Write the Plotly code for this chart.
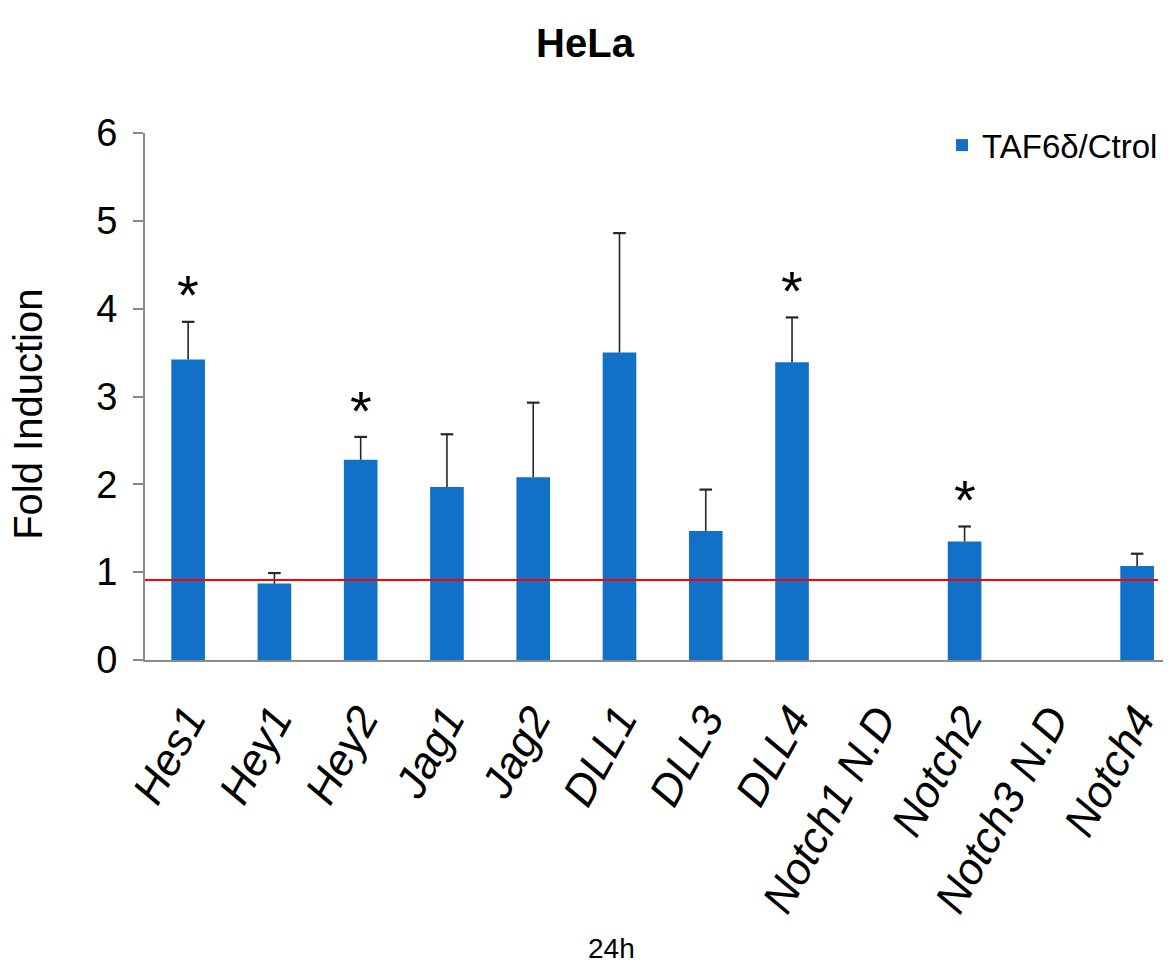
import plotly.graph_objects as go

# Fold induction of Notch pathway genes (TAF6delta vs control), HeLa cells, 24h
genes = ["Hes1", "Hey1", "Hey2", "Jag1", "Jag2", "DLL1", "DLL3", "DLL4",
         "Notch1 N.D", "Notch2", "Notch3 N.D", "Notch4"]
fold_induction = [3.42, 0.87, 2.28, 1.97, 2.08, 3.50, 1.47, 3.39,
                  None, 1.35, None, 1.07]
error_plus = [0.43, 0.12, 0.26, 0.60, 0.85, 1.36, 0.47, 0.51,
              None, 0.17, None, 0.14]
significant = [True, False, True, False, False, False, False, True,
               False, True, False, False]
reference_level = 0.91

BAR_BLUE = "#1170C7"
AXIS_GREY = "#8A8A8A"
ERR_COLOR = "#262626"
SANS = "Liberation Sans, Arial, sans-serif"

fig = go.Figure()

fig.add_trace(go.Bar(
    x=genes,
    y=fold_induction,
    name="TAF6δ/Ctrol",
    width=0.39,
    marker=dict(color=BAR_BLUE, line=dict(width=0)),
    error_y=dict(type="data", symmetric=False, array=error_plus,
                 arrayminus=[0 if v is not None else None for v in error_plus],
                 color=ERR_COLOR, thickness=1.6, width=0, visible=True),
))

# caps on the upper end of the error bars
cap_y = [v + e if v is not None else None for v, e in zip(fold_induction, error_plus)]
fig.add_trace(go.Scatter(
    x=genes, y=cap_y, mode="markers", showlegend=False, hoverinfo="skip",
    marker=dict(symbol="line-ew-open", size=9, color=ERR_COLOR,
                line=dict(color=ERR_COLOR, width=2.2)),
))

# significance asterisks above the error bars
star_offset = 0.42
for g, v, e, s in zip(genes, fold_induction, error_plus, significant):
    if s and v is not None:
        fig.add_annotation(x=g, y=v + e + star_offset, text="*", showarrow=False,
                           xref="x", yref="y", yanchor="middle", yshift=-10,
                           font=dict(family=SANS, size=56, color="black"))

# reference line
fig.add_shape(type="line", xref="paper", x0=0, x1=0.995, yref="y",
              y0=reference_level, y1=reference_level,
              line=dict(color="#FF0000", width=2))

fig.add_annotation(text="Fold Induction", xref="paper", yref="paper",
                   x=-0.115, y=0.467, textangle=-90, showarrow=False,
                   xanchor="center", yanchor="middle",
                   font=dict(family=SANS, size=40, color="black"))

fig.add_annotation(text="24h", xref="paper", yref="paper",
                   x=0.4587, y=-0.5465, showarrow=False,
                   xanchor="center", yanchor="middle",
                   font=dict(family=SANS, size=28, color="black"))

fig.update_layout(
    width=1170, height=964,
    margin=dict(l=145, r=7, t=133, b=304, pad=0),
    paper_bgcolor="white", plot_bgcolor="white",
    title=dict(text="<b>HeLa</b>", xref="container", x=0.5, xanchor="center",
               yref="container", y=0.955, yanchor="middle",
               font=dict(family=SANS, size=40, color="black")),
    showlegend=True,
    legend=dict(x=1.0, xanchor="right", y=0.977, yanchor="middle",
                bgcolor="rgba(0,0,0,0)",
                font=dict(family=SANS, size=33, color="black")),
    bargap=0.6,
)

fig.update_xaxes(
    type="category", range=[-0.5, 11.3],
    showline=True, linecolor=AXIS_GREY, linewidth=2,
    showgrid=False, zeroline=False, ticks="",
    tickangle=-61, ticklabelstandoff=14,
    tickfont=dict(family=SANS, size=44, color="black", style="italic"),
)

fig.update_yaxes(
    range=[0, 6], tickvals=[0, 1, 2, 3, 4, 5, 6],
    showline=True, linecolor=AXIS_GREY, linewidth=2,
    showgrid=False, zeroline=False,
    ticks="outside", ticklen=10, tickcolor=AXIS_GREY, tickwidth=2,
    ticklabelstandoff=8,
    tickfont=dict(family=SANS, size=38, color="black"),
)

fig.write_html("out.html")
